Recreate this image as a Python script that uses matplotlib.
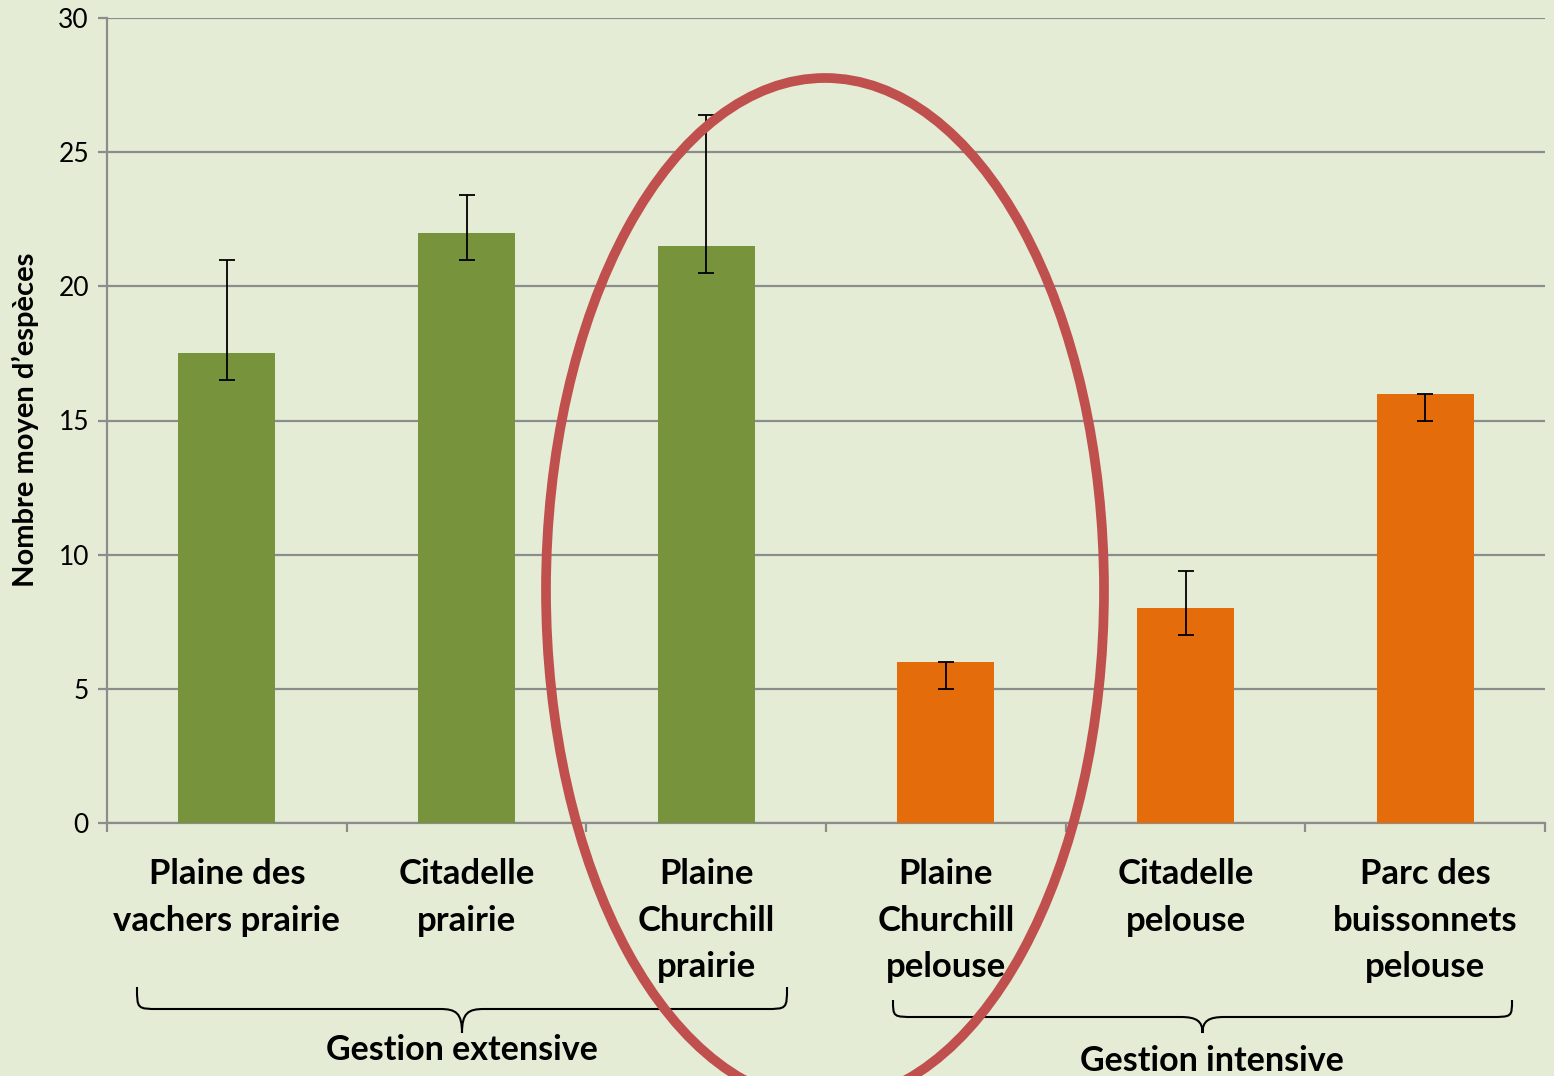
import matplotlib
matplotlib.use("Agg")
import matplotlib.pyplot as plt
import matplotlib.transforms as mtransforms
from matplotlib.patches import Ellipse, PathPatch
from matplotlib.path import Path
import numpy as np

categories = ["Plaine des\nvachers prairie", "Citadelle\nprairie", "Plaine\nChurchill\nprairie",
              "Plaine\nChurchill\npelouse", "Citadelle\npelouse", "Parc des\nbuissonnets\npelouse"]
values = [17.5, 22.0, 21.5, 6.0, 8.0, 16.0]
err_low = [16.5, 21.0, 20.5, 5.0, 7.0, 15.0]
err_high = [21.0, 23.4, 26.4, 6.0, 9.4, 16.0]
bar_colors = ["#77933C", "#77933C", "#77933C", "#E46C0A", "#E46C0A", "#E46C0A"]
groups = ["Gestion extensive", "Gestion intensive"]
yticks = [0, 5, 10, 15, 20, 25, 30]

W, H = 1554, 1076
BG = "#E4ECD5"
FONT = "Lato"

fig = plt.figure(figsize=(W / 100, H / 100), dpi=100, facecolor=BG)
ax = fig.add_axes([107 / W, 1 - 823 / H, (1545 - 107) / W, (823 - 18) / H])
ax.set_facecolor(BG)

x = np.arange(len(categories))
ax.bar(x, values, width=0.405, color=bar_colors, zorder=3)
vals = np.array(values)
yerr = np.array([vals - np.array(err_low), np.array(err_high) - vals])
ax.errorbar(x, vals, yerr=yerr, fmt="none", ecolor="black", elinewidth=1.3,
            capsize=6, capthick=1.3, zorder=4)

ax.set_xlim(-0.5, len(categories) - 0.5)
ax.set_ylim(0, 30)
ax.set_yticks(yticks)
ax.set_yticklabels([str(t) for t in yticks], fontsize=19, family=FONT)
ax.grid(axis="y", color="#8C8C8C", linewidth=1.6, zorder=1)
ax.set_axisbelow(True)

for s in ["top", "right"]:
    ax.spines[s].set_visible(False)
for s in ["left", "bottom"]:
    ax.spines[s].set_color("#8C8C8C")
    ax.spines[s].set_linewidth(1.6)
    ax.spines[s].set_zorder(2)

ax.tick_params(axis="y", length=6.5, width=1.6, color="#8C8C8C", pad=6.5)
ax.set_xticks(x)
ax.set_xticklabels(categories, fontsize=25, fontweight="bold", family=FONT, linespacing=1.55,
                   va="top")
ax.tick_params(axis="x", which="major", length=0, pad=25.5)
ax.set_xticks(np.arange(-0.5, len(categories)), minor=True)
ax.tick_params(axis="x", which="minor", length=6.5, width=1.6, color="#8C8C8C", direction="out")

fig.text(25 / W, 1 - 420 / H, "Nombre moyen d\u2019esp\u00e8ces", rotation=90, ha="center", va="center",
         fontsize=21, fontweight="bold", family=FONT)

# pixel transform (top-left origin)
pix = mtransforms.Affine2D().scale(1 / W, -1 / H).translate(0, 1) + fig.transFigure


def brace(x0, x1, yt, ym, ytip, r=22):
    xc = (x0 + x1) / 2
    verts = [
        (x0, yt), (x0, ym), (x0, ym), (x0 + r, ym),
        (xc - r, ym),
        (xc - 6, ym), (xc, ym + 4), (xc, ytip),
        (xc, ym + 4), (xc + 6, ym), (xc + r, ym),
        (x1 - r, ym),
        (x1, ym), (x1, ym), (x1, yt),
    ]
    codes = [Path.MOVETO, Path.CURVE4, Path.CURVE4, Path.CURVE4,
             Path.LINETO,
             Path.CURVE4, Path.CURVE4, Path.CURVE4,
             Path.CURVE4, Path.CURVE4, Path.CURVE4,
             Path.LINETO,
             Path.CURVE4, Path.CURVE4, Path.CURVE4]
    return PathPatch(Path(verts, codes), facecolor="none", edgecolor="black", linewidth=1.5,
                     transform=pix)


fig.add_artist(brace(137, 787, 987, 1009, 1033))
fig.add_artist(brace(893, 1512, 1000, 1017, 1033))

fig.text(462 / W, 1 - 1050 / H, groups[0], ha="center", va="center", fontsize=24.5,
         fontweight="bold", family=FONT)
fig.text(1212 / W, 1 - 1061 / H, groups[1], ha="center", va="center", fontsize=24.5,
         fontweight="bold", family=FONT)

ell = Ellipse((825, 590), width=558, height=1024, transform=pix, facecolor="none",
              edgecolor="#C0504D", linewidth=7, zorder=10)
fig.add_artist(ell)

fig.savefig("out.png", dpi=100, facecolor=BG)
